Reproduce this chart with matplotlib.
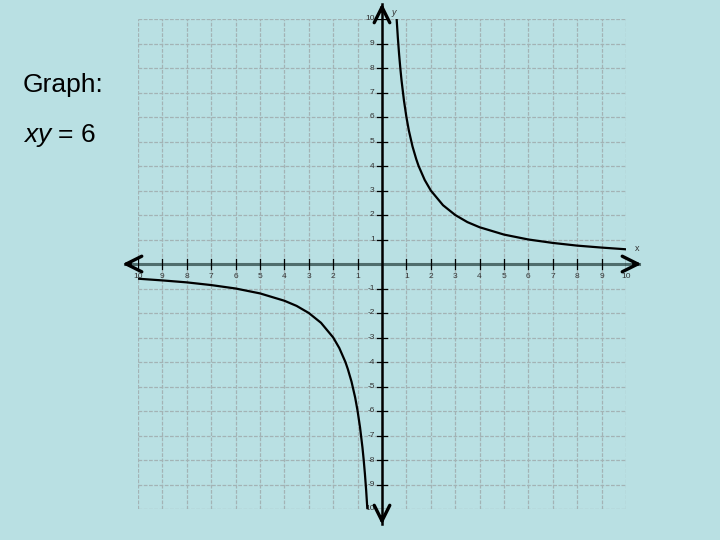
import matplotlib
matplotlib.use("Agg")
import matplotlib.pyplot as plt

x_right = [0.6, 0.65, 0.7, 0.75, 0.8, 0.9, 1.0, 1.1, 1.25, 1.4, 1.5, 1.75, 2.0, 2.5, 3.0, 3.5, 4.0, 5.0, 6.0, 7.0, 8.0, 9.0, 10.0]
y_right = [10.0, 9.23, 8.57, 8.0, 7.5, 6.67, 6.0, 5.45, 4.8, 4.29, 4.0, 3.43, 3.0, 2.4, 2.0, 1.71, 1.5, 1.2, 1.0, 0.86, 0.75, 0.67, 0.6]
x_left = [-10.0, -9.0, -8.0, -7.0, -6.0, -5.0, -4.0, -3.5, -3.0, -2.5, -2.0, -1.75, -1.5, -1.4, -1.25, -1.1, -1.0, -0.9, -0.8, -0.75, -0.7, -0.65, -0.6]
y_left = [-0.6, -0.67, -0.75, -0.86, -1.0, -1.2, -1.5, -1.71, -2.0, -2.4, -3.0, -3.43, -4.0, -4.29, -4.8, -5.45, -6.0, -6.67, -7.5, -8.0, -8.57, -9.23, -10.0]

ticks = list(range(-10, 11))
xlabels = ["10", "9", "8", "7", "6", "5", "4", "3", "2", "1", "", "1", "2", "3", "4", "5", "6", "7", "8", "9", "10"]
ylabels = ["10", "-9", "-8", "-7", "-6", "-5", "-4", "-3", "-2", "-1", "", "1", "2", "3", "4", "5", "6", "7", "8", "9", "10"]

plt.rcParams['font.family'] = ['Liberation Sans', 'DejaVu Sans']
plt.rcParams['mathtext.fontset'] = 'custom'
plt.rcParams['mathtext.it'] = 'Liberation Sans:italic'
plt.rcParams['mathtext.rm'] = 'Liberation Sans'

bg = "#b9e0e3"
fig = plt.figure(figsize=(7.2, 5.4), dpi=100, facecolor=bg)
ax = fig.add_axes([138 / 720, 31 / 540, 488 / 720, 490 / 540])
ax.set_facecolor(bg)
ax.set_xlim(-10, 10)
ax.set_ylim(-10, 10)
ax.axis("off")

# grid
for t in ticks:
    ax.plot([t, t], [-10, 10], color="#a3b3b5", lw=0.9, ls=(0, (3, 1.2)), zorder=1)
    ax.plot([-10, 10], [t, t], color="#a3b3b5", lw=0.9, ls=(0, (3, 1.2)), zorder=1)

# axes lines
ax.plot([-10.55, 10.55], [0, 0], color="#4f6d6d", lw=2.2, zorder=3, clip_on=False)
ax.plot([0, 0], [-10.6, 10.6], color="black", lw=1.8, zorder=3, clip_on=False)

# open arrow heads
arrow = dict(arrowstyle="->,head_length=0.8,head_width=0.4", color="black", lw=2.4, mutation_scale=14)
ax.annotate("", xy=(-10.75, 0), xytext=(-10.2, 0), arrowprops=arrow, annotation_clip=False, zorder=4)
ax.annotate("", xy=(10.75, 0), xytext=(10.2, 0), arrowprops=arrow, annotation_clip=False, zorder=4)
ax.annotate("", xy=(0, 10.75), xytext=(0, 10.2), arrowprops=arrow, annotation_clip=False, zorder=4)
ax.annotate("", xy=(0, -10.75), xytext=(0, -10.2), arrowprops=arrow, annotation_clip=False, zorder=4)

# ticks and labels
for t, lab in zip(ticks, xlabels):
    if t == 0:
        continue
    ax.plot([t, t], [-0.2, 0.2], color="black", lw=0.9, zorder=4)
    ax.text(t, -0.35, lab, ha="center", va="top", fontsize=6, color="#333333")
for t, lab in zip(ticks, ylabels):
    if t == 0:
        continue
    ax.plot([-0.2, 0.2], [t, t], color="black", lw=0.9, zorder=4)
    ax.text(-0.3, t, lab, ha="right", va="center", fontsize=6, color="#333333")
ax.text(0.5, 10.25, "y", fontsize=6.5, color="#333333", ha="center", va="center", style="italic")
ax.text(10.45, 0.65, "x", fontsize=6.5, color="#333333", ha="center", va="center")

# curve
ax.plot(x_right, y_right, color="black", lw=1.6, zorder=5)
ax.plot(x_left, y_left, color="black", lw=1.6, zorder=5)

fig.text(23 / 720, 1 - 92 / 540, "Graph:", fontsize=19, ha="left", va="baseline", color="black")
fig.text(23 / 720, 1 - 142 / 540, r"$\mathit{xy}$ = 6", fontsize=19, ha="left", va="baseline", color="black")

fig.savefig("out.png", dpi=100, facecolor=bg)
